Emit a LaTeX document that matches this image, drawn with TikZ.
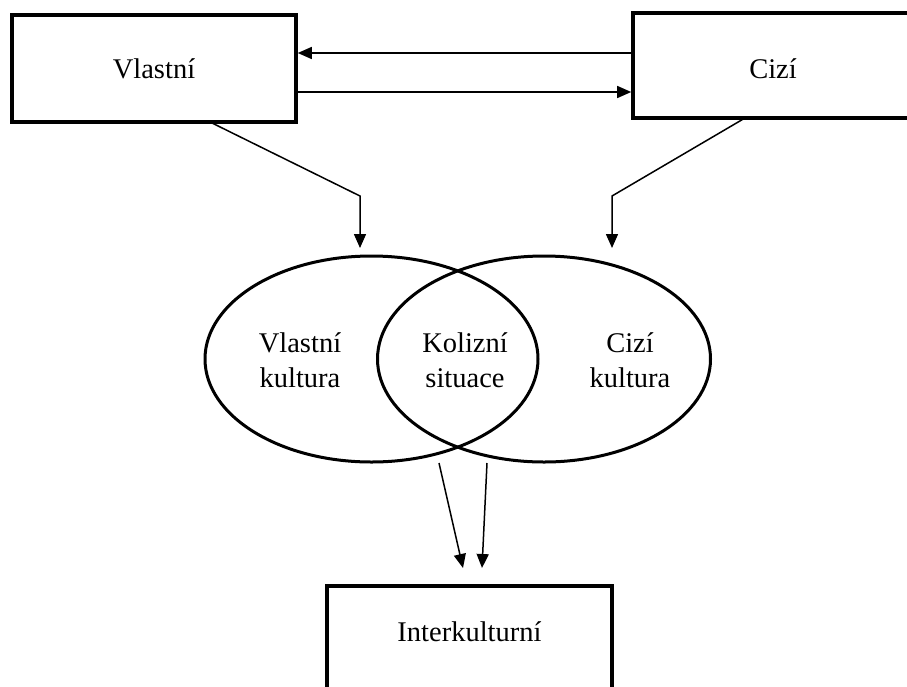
\documentclass[tikz,border=0pt]{standalone}
\usepackage{fontspec}
\setmainfont{Liberation Serif}
\usetikzlibrary{arrows.meta,shapes.geometric}
\begin{document}
\begin{tikzpicture}[x=1pt,y=-1pt,
  font=\fontsize{28.5}{35}\selectfont,
  box/.style={draw, line width=3.6pt, rectangle, inner sep=0pt},
  circ/.style={draw, line width=3pt, ellipse, inner sep=0pt,
    minimum width=333pt, minimum height=206pt},
  label/.style={align=center, inner sep=0pt},
  conn/.style={line width=1.5pt, -{Triangle[length=14pt,width=12pt]}}]
\useasboundingbox (0,0) rectangle (907,686);
\clip (0,0) rectangle (907,686);

% the two source boxes and the result box
\node[box, minimum width=284pt, minimum height=107pt] (vl) at (154,68.5) {Vlastní};
\node[box, minimum width=280pt, minimum height=105pt, text height=26pt,
      text depth=0pt] (ci) at (773,65.5) {Cizí};
\node[box, minimum width=285pt, minimum height=110pt, anchor=north,
      text depth=18pt] (ik) at (469.5,584) {Interkulturní};

% overlapping cultures
\node[circ] (own) at (371.5,359) {};
\node[circ] (foreign) at (544,359) {};
\node[label] (ownt) at (300,360) {Vlastní\\kultura};
\node[label] (midt) at (465,360) {Kolizní\\situace};
\node[label] (fort) at (630,360) {Cizí\\kultura};

% exchange between the two boxes
\draw[conn] (ci.west |- 0,53) -- (vl.east |- 0,53);
\draw[conn] (vl.east |- 0,92) -- (ci.west |- 0,92);

% boxes feeding the cultures
\coordinate (vlb) at (210,122);
\coordinate (vlk) at (360,196);
\coordinate (vle) at (360,248);
\coordinate (cib) at (745,118);
\coordinate (cik) at (612,196);
\coordinate (cie) at (612,248);
\draw[conn] (vlb) -- (vlk) -- (vle);
\draw[conn] (cib) -- (cik) -- (cie);

% cultures leading to the intercultural result
\coordinate (a1) at (439,463);
\coordinate (a2) at (487,463);
\draw[conn] (a1) -- (463,568);
\draw[conn] (a2) -- (482,568);
\end{tikzpicture}
\end{document}
